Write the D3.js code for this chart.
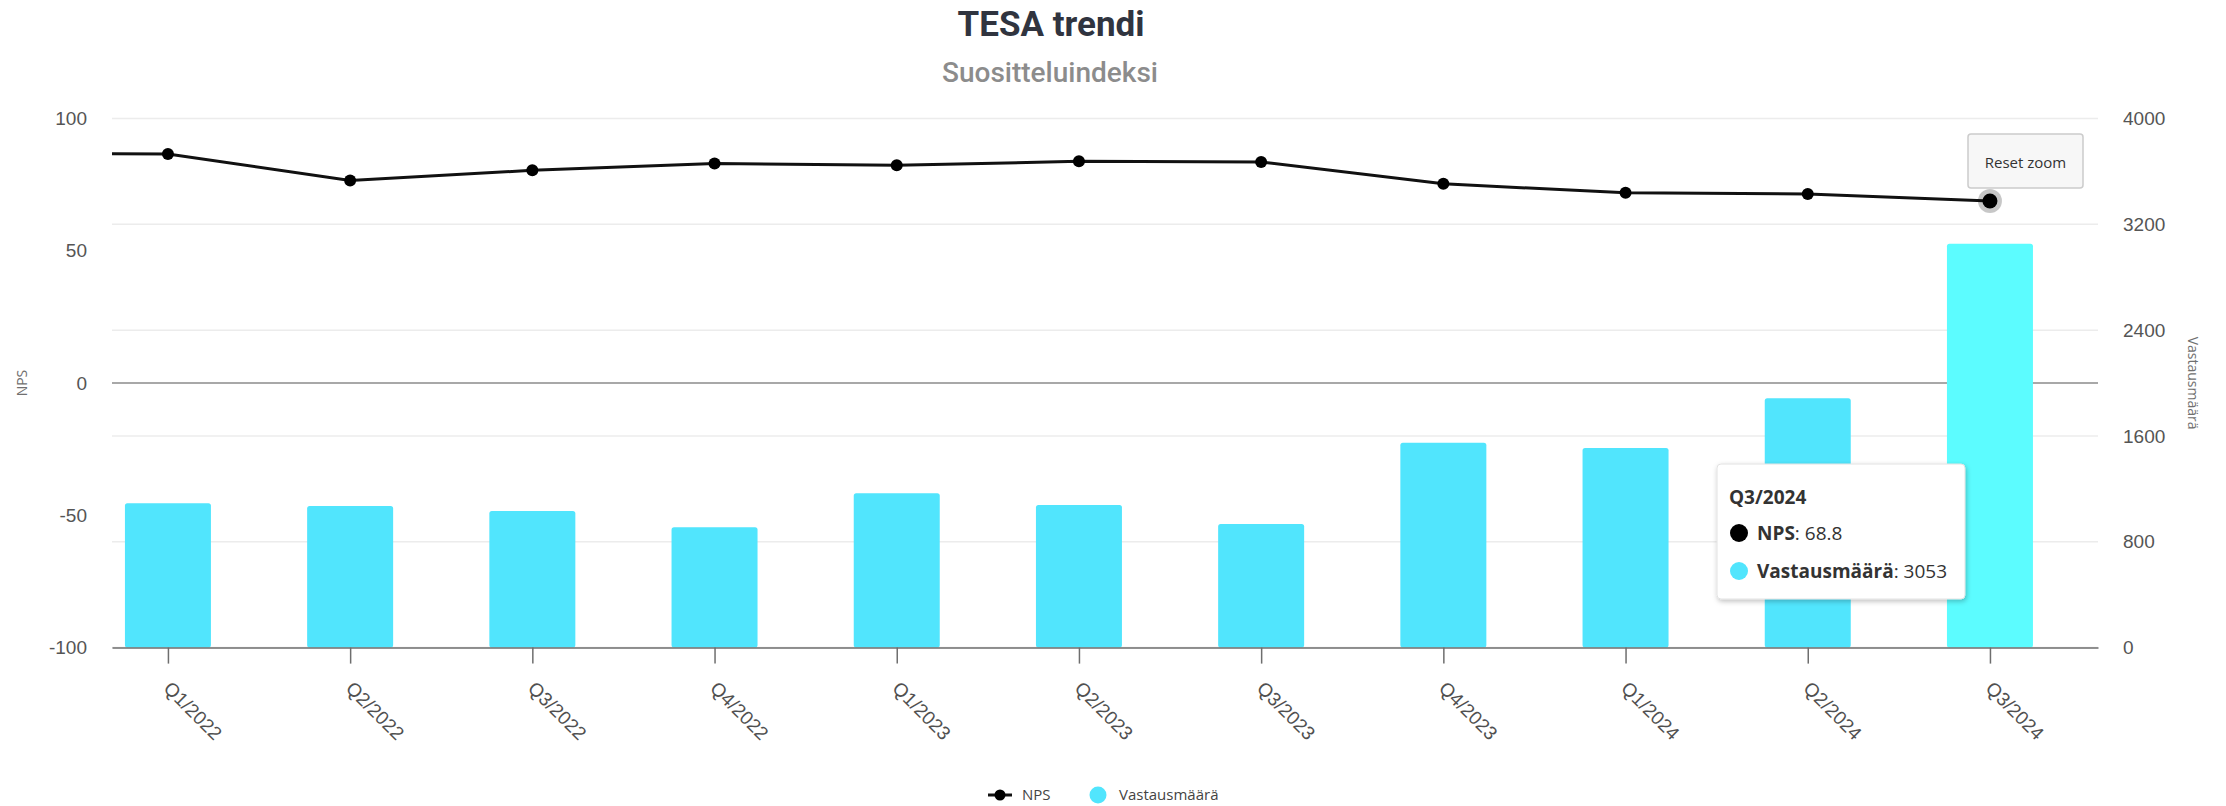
<!DOCTYPE html>
<html>
<head>
<meta charset="utf-8">
<title>TESA trendi</title>
<script src="https://cdn.jsdelivr.net/npm/d3@7"></script>
<style>
  body { margin: 0; background: #fff; }
  svg { display: block; font-family: "Open Sans", sans-serif; }
</style>
</head>
<body>
<svg width="2226" height="806"></svg>
<script>
// quarters, first one is only partly in view (chart is zoomed)
var categories = ["Q4/2021", "Q1/2022", "Q2/2022", "Q3/2022", "Q4/2022", "Q1/2023", "Q2/2023",
                  "Q3/2023", "Q4/2023", "Q1/2024", "Q2/2024", "Q3/2024"];
var nps = [86.8, 86.6, 76.6, 80.4, 83.0, 82.3, 83.8, 83.6, 75.3, 71.9, 71.5, 68.8];
var answers = [null, 1091, 1070, 1033, 909, 1166, 1078, 935, 1549, 1509, 1885, 3053];
var leftTicks = [-100, -50, 0, 50, 100];
var rightTicks = [0, 800, 1600, 2400, 3200, 4000];
var hovered = 11;

var svg = d3.select("svg");
var pL = 112, pR = 2098, pT = 118.5, pB = 647.6;

// zoom window in category units
var x = d3.scaleLinear().domain([0.693, 11.593]).range([pL, pR]);
var yL = d3.scaleLinear().domain([-100, 100]).range([pB, pT]);
var yR = d3.scaleLinear().domain([0, 4000]).range([pB, pT]);

var defs = svg.append("defs");
defs.append("clipPath").attr("id", "plot")
  .append("rect").attr("x", pL).attr("y", pT - 20).attr("width", pR - pL).attr("height", pB - pT + 40);

var shadow = defs.append("filter").attr("id", "shadow")
  .attr("x", "-10%").attr("y", "-10%").attr("width", "130%").attr("height", "130%");
shadow.append("feDropShadow").attr("dx", 1).attr("dy", 2).attr("stdDeviation", 2.5)
  .attr("flood-color", "#000").attr("flood-opacity", 0.25);

// titles
svg.append("text").attr("x", 1051).attr("y", 36).attr("text-anchor", "middle")
  .style("font-family", "Roboto").style("font-weight", 700).style("font-size", "35px")
  .attr("fill", "#30343f").text("TESA trendi");
svg.append("text").attr("x", 1050).attr("y", 82).attr("text-anchor", "middle")
  .style("font-family", "Roboto").style("font-weight", 500).style("font-size", "28px")
  .attr("fill", "#8c8c8c").text("Suositteluindeksi");

// grid from right axis
svg.append("g").selectAll("line").data(rightTicks).join("line")
  .attr("x1", pL).attr("x2", pR)
  .attr("y1", function(d) { return yR(d); }).attr("y2", function(d) { return yR(d); })
  .attr("stroke", "#ececec").attr("stroke-width", 1.5);

// zero line of NPS
svg.append("line").attr("x1", pL).attr("x2", pR)
  .attr("y1", yL(0)).attr("y2", yL(0)).attr("stroke", "#a8a8a8").attr("stroke-width", 2);

// bars
var step = x(1) - x(0);
var bw = step * 0.472;
var plot = svg.append("g").attr("clip-path", "url(#plot)");
var barIdx = d3.range(categories.length).filter(function(i) { return answers[i] != null; });
plot.selectAll("rect.bar").data(barIdx).join("rect")
  .attr("class", "bar")
  .attr("x", function(i) { return x(i) - bw / 2; })
  .attr("y", function(i) { return yR(answers[i]); })
  .attr("width", bw)
  .attr("height", function(i) { return yR(0) - yR(answers[i]); })
  .attr("rx", 2.5)
  .attr("fill", function(i) { return i === hovered ? "#5cfcff" : "#51e5fd"; });

// bottom axis
var idx = d3.range(1, categories.length);
var xAxis = svg.append("g").attr("transform", "translate(0," + pB + ")")
  .call(d3.axisBottom(x).tickValues(idx).tickSize(16).tickSizeOuter(0)
    .tickFormat(function(i) { return categories[i]; }));
xAxis.select(".domain").attr("stroke", "#6e6e6e").attr("stroke-width", 1.5);
xAxis.selectAll(".tick line").attr("stroke", "#6e6e6e").attr("stroke-width", 1.5);
xAxis.selectAll(".tick text")
  .attr("x", 0).attr("y", 0).attr("dy", null)
  .attr("text-anchor", "start")
  .attr("transform", "translate(-6,42) rotate(45)")
  .style("font-size", "19px").attr("fill", "#505050");

// left axis
var la = svg.append("g").attr("transform", "translate(" + pL + ",0)")
  .call(d3.axisLeft(yL).tickValues(leftTicks).tickSize(0).tickPadding(25).tickFormat(String));
la.select(".domain").remove();
la.selectAll("text").style("font-size", "19px").attr("fill", "#555");

// right axis
var ra = svg.append("g").attr("transform", "translate(" + pR + ",0)")
  .call(d3.axisRight(yR).tickValues(rightTicks).tickSize(0).tickPadding(25).tickFormat(String));
ra.select(".domain").remove();
ra.selectAll("text").style("font-size", "19px").attr("fill", "#555");

svg.append("text").attr("transform", "translate(27," + yL(0) + ") rotate(-90)")
  .attr("text-anchor", "middle").style("font-size", "14px").attr("fill", "#707070").text("NPS");
svg.append("text").attr("transform", "translate(2188," + yL(0) + ") rotate(90)")
  .attr("text-anchor", "middle").style("font-size", "14px").attr("fill", "#707070").text("Vastausmäärä");

// NPS line
var line = d3.line().x(function(d, i) { return x(i); }).y(function(d) { return yL(d); });
plot.append("path").datum(nps).attr("d", line)
  .attr("fill", "none").attr("stroke", "#111").attr("stroke-width", 3);
plot.selectAll("circle.pt").data(nps).join("circle").attr("class", "pt")
  .attr("cx", function(d, i) { return x(i); }).attr("cy", function(d) { return yL(d); })
  .attr("r", 6).attr("fill", "#000");

// hover state on last point
svg.append("circle").attr("cx", x(hovered)).attr("cy", yL(nps[hovered]))
  .attr("r", 12).attr("fill", "#000").attr("fill-opacity", 0.22);
svg.append("circle").attr("cx", x(hovered)).attr("cy", yL(nps[hovered]))
  .attr("r", 7.5).attr("fill", "#000");

// reset zoom button
var btn = svg.append("g").attr("transform", "translate(1968,134)");
btn.append("rect").attr("width", 115).attr("height", 54).attr("rx", 3)
  .attr("fill", "#f7f7f7").attr("stroke", "#cccccc").attr("stroke-width", 1.5);
btn.append("text").attr("x", 57.5).attr("y", 29).attr("dy", "0.35em").attr("text-anchor", "middle")
  .style("font-size", "15px").attr("fill", "#333").text("Reset zoom");

// tooltip
var tip = svg.append("g").attr("transform", "translate(1717,464)");
tip.append("rect").attr("width", 248).attr("height", 135).attr("rx", 4)
  .attr("fill", "#fff").attr("stroke", "#e2e2e2").attr("filter", "url(#shadow)");
tip.append("text").attr("x", 12).attr("y", 40).style("font-size", "19px").style("font-weight", 700)
  .attr("fill", "#333").text(categories[hovered]);
var rows = [["NPS", nps[hovered], "#000"], ["Vastausmäärä", answers[hovered], "#51e5fd"]];
rows.forEach(function(r, k) {
  var cy = 69 + k * 38;
  tip.append("circle").attr("cx", 22).attr("cy", cy).attr("r", 9).attr("fill", r[2]);
  var t = tip.append("text").attr("x", 40).attr("y", cy + 7).style("font-size", "19px").attr("fill", "#333");
  t.append("tspan").style("font-weight", 700).text(r[0]);
  t.append("tspan").text(": " + r[1]);
});

// legend
var lg = svg.append("g").attr("transform", "translate(0,795)");
lg.append("line").attr("x1", 988).attr("x2", 1012).attr("stroke", "#111").attr("stroke-width", 3);
lg.append("circle").attr("cx", 1000).attr("r", 5.5).attr("fill", "#000");
lg.append("text").attr("x", 1022).attr("dy", "0.35em").style("font-size", "15px").attr("fill", "#444").text("NPS");
lg.append("circle").attr("cx", 1098).attr("r", 8.5).attr("fill", "#51e5fd");
lg.append("text").attr("x", 1119).attr("dy", "0.35em").style("font-size", "15px").attr("fill", "#444").text("Vastausmäärä");
</script>
</body>
</html>
